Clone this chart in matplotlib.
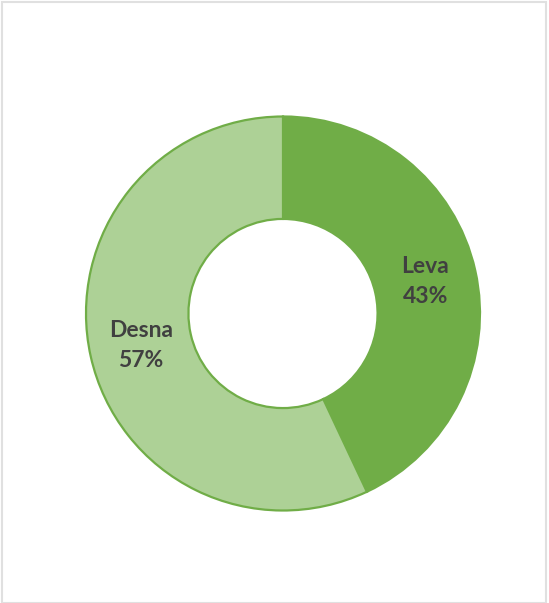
import matplotlib.pyplot as plt
from matplotlib.patches import Rectangle

labels = ['Leva', 'Desna']
values = [43, 57]
colors = ['#70AD47', '#ADD196']

fig = plt.figure(figsize=(5.49, 6.03), dpi=100)
ax = fig.add_axes([0, 0, 1, 1])

names = iter(labels)
wedges, texts, autotexts = ax.pie(
    values, colors=colors, startangle=90, counterclock=False,
    center=(283, 289.5), radius=197,
    wedgeprops=dict(width=197 * 0.52, edgecolor='#70AD47', linewidth=1.6),
    autopct=lambda p: f'{next(names)}\n{p:.0f}%', pctdistance=0.74,
    textprops=dict(color='#404040', fontsize=16.5, fontweight='bold',
                   family=['Lato', 'DejaVu Sans']))
for t in autotexts:
    t.set_linespacing(1.55)

ax.set_xlim(0, 549)
ax.set_ylim(0, 603)
ax.set_aspect('auto')
ax.axis('off')

fig.patches.append(Rectangle((2, 0), 544, 601, transform=None, fill=False,
                             edgecolor='#E0E0E0', linewidth=1.5))

fig.savefig('out.png', dpi=100)
